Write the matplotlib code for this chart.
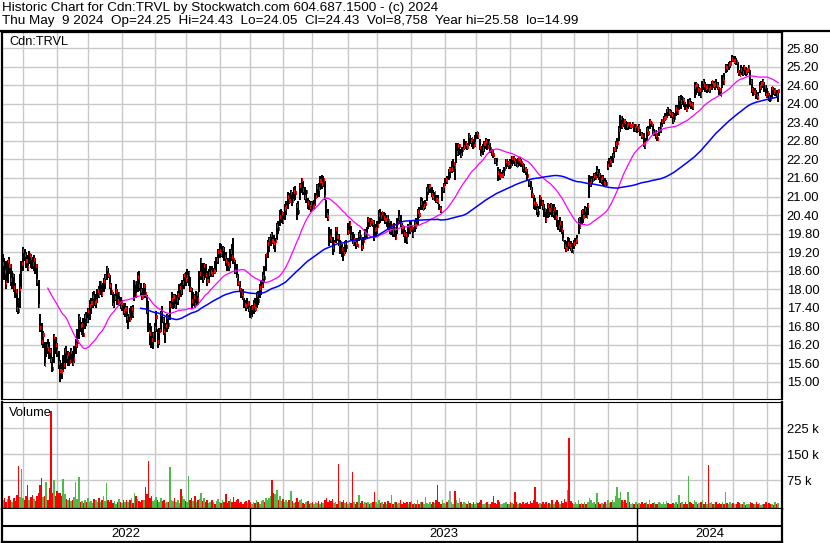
import pandas as pd
import matplotlib
matplotlib.use("Agg")
import matplotlib.pyplot as plt

# fonts: Arial-like first, DejaVu as fallback
plt.rcParams["font.family"] = ["Liberation Sans", "DejaVu Sans"]

# daily bars for Cdn:TRVL, one row per month (May 2022 .. May 2024)
low = [
    18.40, 18.30, 18.00, 18.20, 18.50, 18.10, 18.00, 17.90, 17.70, 17.25, 17.20, 17.40, 18.00, 18.60, 18.90,
    18.70, 18.60, 18.80, 18.70, 18.65, 18.60, 18.50, 18.10, 17.40, 16.60, 16.20, 16.10, 15.50, 15.80, 15.90, 15.75, 15.60, 15.30, 15.60, 15.90, 15.80, 15.40,
    14.99, 15.10, 15.30, 15.40, 15.60, 15.50, 15.50, 15.60, 15.50, 15.60, 15.90, 16.10, 16.40, 16.60, 16.50, 16.45, 16.70, 16.80, 16.90, 17.00,
    17.20, 17.40, 17.45, 17.40, 17.55, 17.70, 17.80, 17.75, 17.90, 18.00, 18.30, 18.35, 18.00, 17.80, 17.45, 17.40, 17.60, 17.50, 17.45, 17.35, 17.30, 17.15,
    17.10, 16.90, 16.70, 16.95, 17.00, 17.05, 17.60, 17.70, 17.90, 17.95, 17.80, 17.65, 17.75, 17.70, 17.20, 16.60, 16.20, 16.10, 16.05, 16.30, 16.60,
    16.10, 16.20, 16.60, 16.90, 16.50, 16.25, 16.60, 16.70, 17.00, 17.40, 17.35, 17.40, 17.35, 17.50, 17.65, 17.75, 17.80, 18.00, 18.10, 18.20,
    18.10, 17.90, 17.35, 17.45, 17.40, 17.45, 17.50, 17.90, 18.30, 18.20, 18.30, 18.35, 18.10, 18.20, 18.40, 18.40, 18.40, 18.50, 18.55, 18.80, 19.00, 19.05,
    19.00, 18.90, 18.75, 18.60, 18.60, 18.70, 18.90, 18.80, 18.50, 18.35, 18.10, 17.90, 17.70, 17.65, 17.40, 17.30, 17.35, 17.25, 17.05, 17.10,
    17.20, 17.25, 17.40, 17.50, 17.70, 17.80, 18.05, 18.20, 18.60, 19.00, 19.20, 19.40, 19.45, 19.30, 19.20, 19.60, 19.80, 20.05, 20.15, 20.10, 20.25,
    20.40, 20.60, 20.75, 20.80, 20.70, 20.85, 20.90, 20.25, 20.40, 20.90, 21.10, 21.05, 20.90, 20.80, 20.60, 20.55, 20.50, 20.55, 20.60,
    20.70, 20.95, 21.00, 21.20, 21.25, 21.30, 20.90, 20.30, 20.20, 19.40, 19.50, 19.10, 19.20, 19.50, 19.55, 19.40, 19.15, 19.05, 18.90, 19.15, 19.20, 19.75, 19.80,
    19.60, 19.45, 19.40, 19.30, 19.35, 19.55, 19.60, 19.25, 19.30, 19.60, 19.65, 19.95, 20.00, 20.05, 20.00, 19.55, 19.70, 19.80, 20.10,
    20.15, 20.20, 20.20, 20.10, 20.00, 19.90, 19.80, 19.75, 19.70, 19.70, 19.60, 19.80, 20.10, 20.00, 19.80, 19.70, 19.50, 19.45, 19.70, 19.80, 19.85, 19.65,
    19.85, 19.95, 20.05, 20.30, 20.55, 20.55, 20.55, 20.60, 20.85, 21.05, 21.10, 21.00, 20.90, 20.85, 20.80, 20.75, 20.55, 20.45, 20.85, 21.10, 21.35, 21.40,
    21.55, 21.60, 21.75, 21.80, 21.55, 22.10, 22.30, 22.35, 22.25, 22.30, 22.50, 22.55, 22.50, 22.65, 22.70, 22.60, 22.55, 22.60, 22.85, 22.85,
    22.50, 22.30, 22.35, 22.45, 22.55, 22.50, 22.55, 22.40, 22.30, 22.25, 22.05, 22.00, 21.50, 21.55, 21.60, 21.60, 21.65, 21.90, 21.95, 21.90, 21.90, 22.00,
    22.05, 22.00, 21.95, 21.95, 22.00, 21.95, 21.80, 21.75, 21.70, 21.50, 21.30, 21.20, 20.95, 20.60, 20.55, 20.40, 20.35, 20.60, 20.70, 20.55,
    20.35, 20.15, 20.30, 20.35, 20.40, 20.35, 20.30, 20.25, 20.00, 19.90, 19.85, 19.80, 19.55, 19.30, 19.20, 19.25, 19.30, 19.25, 19.16, 19.30, 19.40,
    19.45, 19.80, 19.95, 20.10, 20.15, 20.30, 20.30, 20.40, 20.95, 21.30, 21.40, 21.50, 21.55, 21.60, 21.55, 21.45, 21.40, 21.35, 21.30, 21.35, 21.85, 21.95,
    21.95, 22.10, 22.25, 22.45, 22.55, 22.80, 23.10, 23.20, 23.25, 23.20, 23.15, 23.15, 23.20, 23.20, 23.25, 23.10, 23.10, 23.05, 23.10,
    22.95, 22.85, 22.60, 22.55, 22.80, 22.95, 23.20, 23.25, 23.00, 22.95, 22.85, 22.80, 22.95, 23.05, 23.25, 23.35, 23.45, 23.55, 23.60, 23.60, 23.55,
    23.35, 23.40, 23.60, 23.65, 23.80, 23.85, 23.95, 23.90, 23.80, 23.75, 23.85, 23.90, 23.85, 23.80, 24.20, 24.30, 24.35, 24.25, 24.20, 24.40,
    24.45, 24.40, 24.35, 24.40, 24.35, 24.45, 24.50, 24.45, 24.50, 24.45, 24.30, 24.25, 24.50, 24.60, 25.00, 25.05, 25.10, 25.15, 25.35, 25.35,
    25.30, 25.25, 25.00, 24.90, 24.95, 24.90, 24.95, 24.90, 24.95, 25.00, 24.60, 24.35, 24.25, 24.30, 24.15, 24.13, 24.35, 24.45, 24.50, 24.40, 24.25, 24.20,
    24.10, 24.05, 24.20, 24.30, 24.25, 24.20, 24.05,
]
high = [
    19.15, 19.00, 18.90, 18.95, 19.05, 18.80, 18.60, 18.50, 18.20, 18.00, 17.70, 18.50, 18.90, 19.35, 19.30,
    19.20, 19.10, 19.25, 19.15, 19.05, 19.10, 19.00, 18.80, 18.30, 17.20, 16.90, 16.65, 16.30, 16.30, 16.40, 16.30, 16.10, 15.80, 16.55, 16.45, 16.25, 16.00,
    15.70, 15.60, 15.85, 16.10, 16.15, 16.00, 15.95, 16.10, 16.00, 16.15, 16.40, 16.70, 17.20, 17.10, 16.95, 17.05, 17.20, 17.25, 17.40, 17.65,
    17.70, 17.90, 17.95, 17.85, 18.00, 18.10, 18.25, 18.20, 18.35, 18.50, 18.75, 18.70, 18.45, 18.20, 17.90, 17.85, 18.15, 18.00, 17.90, 17.75, 17.65, 17.55,
    17.55, 17.45, 17.20, 17.40, 17.45, 17.50, 18.30, 18.25, 18.55, 18.60, 18.20, 18.05, 18.20, 18.15, 17.80, 17.60, 16.90, 16.80, 16.60, 16.90, 17.30,
    16.70, 16.75, 17.30, 17.45, 17.10, 16.90, 17.20, 17.15, 17.60, 17.90, 17.85, 17.85, 17.80, 17.95, 18.15, 18.20, 18.30, 18.50, 18.55, 18.65,
    18.60, 18.40, 18.05, 17.90, 17.85, 17.95, 17.90, 18.60, 19.00, 18.85, 18.85, 18.80, 18.60, 18.65, 18.75, 18.75, 18.70, 18.90, 19.05, 19.30, 19.50, 19.45,
    19.40, 19.35, 19.20, 19.00, 19.00, 19.30, 19.45, 19.65, 18.95, 18.80, 18.50, 18.25, 18.05, 18.00, 17.70, 17.65, 17.70, 17.60, 17.45, 17.50,
    17.65, 17.70, 17.90, 17.95, 18.15, 18.30, 18.55, 18.75, 19.15, 19.60, 19.70, 19.80, 19.85, 19.75, 19.65, 20.15, 20.20, 20.55, 20.60, 20.50, 20.75,
    20.85, 21.15, 21.10, 21.20, 21.15, 21.30, 21.35, 20.80, 20.85, 21.45, 21.60, 21.50, 21.30, 21.20, 20.95, 20.90, 20.85, 20.85, 20.90,
    21.10, 21.40, 21.45, 21.65, 21.70, 21.65, 21.50, 20.90, 20.60, 20.00, 19.95, 19.70, 19.60, 20.00, 20.00, 19.80, 19.60, 19.45, 19.35, 19.55, 19.60, 20.15, 20.20,
    20.05, 19.85, 19.80, 19.60, 19.65, 19.85, 19.90, 19.65, 19.70, 19.95, 20.00, 20.35, 20.30, 20.30, 20.25, 20.25, 20.10, 20.20, 20.55,
    20.60, 20.50, 20.50, 20.45, 20.40, 20.40, 20.15, 20.20, 20.10, 20.15, 20.00, 20.30, 20.55, 20.40, 20.15, 20.05, 19.90, 19.85, 20.10, 20.20, 20.25, 20.00,
    20.20, 20.30, 20.60, 20.65, 21.00, 20.95, 20.85, 20.90, 21.30, 21.40, 21.40, 21.30, 21.20, 21.15, 21.05, 21.05, 20.75, 20.70, 21.30, 21.45, 21.60, 21.65,
    21.90, 21.95, 22.15, 22.20, 22.10, 22.75, 22.75, 22.70, 22.55, 22.60, 22.85, 22.80, 22.75, 23.05, 23.00, 22.90, 22.85, 23.00, 23.10, 23.10,
    22.85, 22.65, 22.70, 22.80, 22.90, 22.85, 22.85, 22.75, 22.55, 22.50, 22.25, 22.25, 21.95, 21.90, 21.80, 21.85, 21.95, 22.20, 22.20, 22.15, 22.20, 22.30,
    22.30, 22.25, 22.20, 22.25, 22.25, 22.20, 22.10, 22.05, 21.95, 21.90, 21.55, 21.50, 21.30, 21.05, 20.95, 20.75, 20.70, 21.05, 21.00, 20.90,
    20.75, 20.60, 20.80, 20.75, 20.80, 20.75, 20.75, 20.65, 20.55, 20.25, 20.35, 20.20, 19.90, 19.60, 19.55, 19.70, 19.65, 19.55, 19.50, 19.60, 19.65,
    19.75, 20.30, 20.35, 20.55, 20.60, 20.70, 20.65, 20.80, 21.70, 21.65, 21.65, 21.75, 21.80, 22.00, 21.90, 21.75, 21.70, 21.70, 21.60, 21.55, 22.15, 22.25,
    22.30, 22.40, 22.60, 22.80, 22.90, 23.30, 23.65, 23.60, 23.55, 23.50, 23.45, 23.40, 23.40, 23.35, 23.40, 23.35, 23.35, 23.30, 23.35,
    23.20, 23.10, 23.05, 22.90, 23.25, 23.30, 23.50, 23.45, 23.35, 23.20, 23.15, 23.05, 23.25, 23.40, 23.50, 23.60, 23.70, 23.85, 23.90, 23.85, 23.80,
    23.75, 23.70, 23.95, 23.95, 24.25, 24.30, 24.25, 24.20, 24.05, 24.00, 24.15, 24.20, 24.10, 24.05, 24.70, 24.70, 24.65, 24.55, 24.50, 24.75,
    24.80, 24.70, 24.65, 24.65, 24.65, 24.75, 24.75, 24.75, 24.80, 24.70, 24.55, 24.50, 24.95, 25.00, 25.30, 25.30, 25.35, 25.40, 25.58, 25.55,
    25.55, 25.50, 25.35, 25.10, 25.25, 25.20, 25.25, 25.20, 25.15, 25.25, 25.10, 24.80, 24.55, 24.50, 24.45, 24.40, 24.70, 24.75, 24.80, 24.70, 24.60, 24.50,
    24.35, 24.30, 24.55, 24.55, 24.50, 24.45, 24.43,
]
close = [
    18.80, 18.55, 18.20, 18.90, 18.75, 18.30, 18.45, 18.05, 17.95, 17.35, 17.30, 18.00, 18.80, 19.25, 19.10,
    18.90, 18.70, 19.10, 19.00, 18.80, 18.95, 18.75, 18.25, 17.45, 16.75, 16.30, 16.50, 15.55, 16.15, 16.05, 16.00, 15.70, 15.40, 16.45, 16.20, 16.00, 15.60,
    15.35, 15.30, 15.55, 16.00, 15.80, 15.90, 15.65, 15.95, 15.60, 15.75, 16.20, 16.30, 17.05, 16.80, 16.85, 16.50, 17.10, 17.00, 17.30, 17.45,
    17.55, 17.75, 17.55, 17.60, 17.95, 17.80, 18.20, 17.85, 18.25, 18.40, 18.65, 18.45, 18.10, 17.90, 17.50, 17.70, 17.95, 17.60, 17.85, 17.45, 17.55, 17.30,
    17.35, 17.05, 17.15, 17.00, 17.35, 17.20, 18.20, 17.80, 18.40, 18.10, 17.95, 17.75, 18.10, 17.85, 17.30, 16.60, 16.55, 16.35, 16.50, 16.70, 17.10,
    16.30, 16.65, 17.20, 17.00, 16.65, 16.80, 17.10, 16.85, 17.50, 17.65, 17.75, 17.45, 17.65, 17.80, 18.05, 17.90, 18.20, 18.45, 18.30, 18.40,
    18.50, 18.00, 17.60, 17.75, 17.50, 17.85, 17.65, 18.50, 18.90, 18.35, 18.75, 18.45, 18.25, 18.50, 18.55, 18.50, 18.60, 18.55, 18.95, 19.20, 19.25, 19.15,
    19.30, 19.05, 18.90, 18.80, 18.75, 19.20, 19.05, 18.95, 18.60, 18.40, 18.20, 18.00, 17.85, 17.75, 17.50, 17.45, 17.55, 17.35, 17.10, 17.40,
    17.50, 17.35, 17.80, 17.60, 18.05, 18.10, 18.40, 18.35, 19.10, 19.45, 19.60, 19.75, 19.55, 19.50, 19.55, 20.05, 19.95, 20.35, 20.45, 20.20, 20.60,
    20.65, 21.00, 20.85, 21.10, 20.85, 21.15, 21.10, 20.70, 20.50, 21.35, 21.55, 21.20, 21.00, 21.15, 20.80, 20.65, 20.75, 20.65, 20.70,
    21.00, 21.30, 21.25, 21.50, 21.40, 21.55, 21.00, 20.40, 20.35, 19.70, 19.60, 19.35, 19.45, 19.95, 19.70, 19.45, 19.50, 19.30, 19.15, 19.50, 19.35, 19.85, 20.10,
    19.70, 19.50, 19.60, 19.45, 19.40, 19.75, 19.70, 19.35, 19.55, 19.80, 19.75, 20.25, 20.10, 20.20, 20.15, 19.90, 19.95, 20.05, 20.40,
    20.35, 20.45, 20.30, 20.25, 20.35, 20.20, 19.90, 20.05, 19.85, 19.95, 19.65, 20.15, 20.30, 20.10, 20.00, 19.80, 19.75, 19.60, 20.05, 19.90, 20.00, 19.75,
    20.10, 20.05, 20.50, 20.40, 20.80, 20.60, 20.70, 20.75, 21.20, 21.30, 21.35, 21.05, 20.95, 21.10, 20.90, 20.85, 20.60, 20.55, 21.25, 21.35, 21.55, 21.50,
    21.85, 21.85, 21.90, 22.05, 21.95, 22.40, 22.65, 22.65, 22.35, 22.50, 22.60, 22.70, 22.60, 22.95, 22.80, 22.85, 22.65, 22.70, 23.05, 22.95,
    22.60, 22.35, 22.55, 22.70, 22.80, 22.60, 22.75, 22.55, 22.40, 22.35, 22.15, 22.05, 21.75, 21.65, 21.65, 21.70, 21.90, 22.15, 22.05, 22.10, 22.00, 22.25,
    22.20, 22.10, 22.00, 22.20, 22.15, 22.10, 21.95, 21.90, 21.85, 21.65, 21.45, 21.25, 21.05, 20.80, 20.75, 20.55, 20.45, 21.00, 20.80, 20.65,
    20.55, 20.25, 20.70, 20.55, 20.70, 20.45, 20.60, 20.35, 20.30, 20.00, 20.15, 19.90, 19.60, 19.40, 19.30, 19.45, 19.40, 19.30, 19.20, 19.45, 19.55,
    19.60, 20.25, 20.05, 20.50, 20.35, 20.55, 20.35, 20.70, 21.40, 21.50, 21.55, 21.65, 21.60, 21.80, 21.70, 21.55, 21.60, 21.45, 21.40, 21.40, 22.00, 22.15,
    22.10, 22.30, 22.55, 22.70, 22.75, 23.15, 23.55, 23.30, 23.45, 23.40, 23.30, 23.35, 23.30, 23.30, 23.35, 23.20, 23.30, 23.20, 23.25,
    23.00, 22.95, 22.70, 22.65, 23.15, 23.05, 23.40, 23.35, 23.05, 23.10, 23.00, 22.85, 23.15, 23.25, 23.45, 23.50, 23.55, 23.80, 23.75, 23.70, 23.65,
    23.45, 23.55, 23.85, 23.75, 24.15, 24.05, 24.15, 24.10, 23.85, 23.80, 24.05, 24.00, 23.95, 23.90, 24.55, 24.60, 24.45, 24.45, 24.30, 24.70,
    24.60, 24.50, 24.55, 24.45, 24.50, 24.70, 24.60, 24.65, 24.60, 24.55, 24.45, 24.30, 24.80, 24.70, 25.20, 25.15, 25.25, 25.30, 25.45, 25.40,
    25.40, 25.35, 25.05, 24.95, 25.10, 25.00, 25.15, 25.05, 25.10, 25.20, 24.70, 24.45, 24.35, 24.40, 24.25, 24.20, 24.55, 24.65, 24.70, 24.55, 24.30, 24.35,
    24.20, 24.15, 24.50, 24.40, 24.45, 24.30, 24.43,
]
# daily volume in thousands of shares
volume_k = [
    18, 25, 14, 22, 30, 20, 12, 24, 16, 34, 118, 28, 107, 24, 20,
    30, 62, 18, 26, 34, 22, 15, 30, 40, 62, 83, 28, 30, 72, 20, 52, 275, 40, 76, 30, 45, 38,
    40, 30, 79, 35, 22, 18, 25, 15, 20, 28, 70, 22, 86, 12, 15, 10, 20, 14, 25, 12,
    16, 10, 22, 18, 12, 25, 14, 20, 30, 15, 69, 18, 12, 20, 10, 15, 8, 14, 22, 12, 10, 18,
    14, 20, 12, 18, 25, 10, 38, 30, 22, 15, 12, 20, 18, 57, 35, 131, 25, 30, 15, 20, 28,
    18, 12, 25, 15, 20, 10, 14, 12, 115, 20, 15, 25, 12, 18, 10, 50, 30, 22, 15, 12,
    87, 20, 25, 15, 30, 12, 18, 22, 38, 15, 25, 12, 18, 10, 14, 20, 12, 8, 16, 22, 14, 10,
    18, 12, 36, 10, 15, 22, 14, 28, 12, 18, 21, 10, 14, 8, 12, 16, 10, 20, 12, 8,
    14, 10, 18, 12, 8, 16, 20, 12, 24, 18, 25, 30, 76, 40, 35, 47, 20, 30, 15, 22, 12,
    18, 12, 20, 45, 15, 10, 14, 25, 12, 18, 22, 10, 8, 12, 15, 6, 10, 14, 8,
    12, 10, 15, 8, 14, 10, 18, 25, 12, 20, 15, 22, 10, 14, 8, 123, 16, 12, 20, 10, 14, 8, 12,
    10, 100, 14, 8, 12, 33, 10, 15, 8, 12, 10, 14, 6, 10, 12, 43, 14, 8, 20,
    10, 14, 8, 12, 6, 15, 10, 33, 8, 12, 14, 6, 10, 18, 8, 12, 10, 14, 6, 12, 15, 8,
    10, 6, 18, 8, 12, 14, 6, 28, 10, 8, 12, 6, 14, 10, 18, 62, 12, 8, 20, 10, 6, 12,
    18, 45, 12, 8, 45, 20, 10, 25, 12, 8, 14, 10, 6, 16, 10, 8, 12, 6, 14, 10,
    12, 18, 8, 6, 10, 14, 6, 8, 12, 30, 10, 6, 20, 12, 8, 6, 10, 14, 8, 6, 12, 10,
    8, 43, 12, 6, 10, 8, 14, 6, 10, 12, 8, 15, 10, 18, 57, 14, 8, 10, 6, 12,
    8, 14, 6, 10, 8, 18, 6, 12, 20, 14, 8, 16, 10, 22, 12, 47, 197, 15, 10, 8, 12,
    6, 20, 8, 10, 6, 14, 8, 12, 24, 18, 10, 14, 8, 40, 12, 6, 10, 8, 14, 6, 18, 10,
    12, 20, 14, 30, 57, 25, 43, 18, 12, 20, 10, 41, 14, 6, 10, 8, 12, 6, 10,
    8, 12, 6, 10, 14, 8, 18, 6, 10, 12, 8, 6, 14, 10, 6, 12, 8, 16, 10, 6, 8,
    10, 6, 12, 8, 33, 10, 14, 6, 12, 8, 88, 14, 10, 6, 18, 12, 8, 10, 14, 20,
    8, 12, 6, 120, 10, 14, 6, 8, 12, 6, 10, 8, 14, 6, 43, 10, 8, 12, 6, 10,
    8, 6, 14, 10, 6, 8, 12, 5, 8, 6, 14, 10, 8, 6, 12, 8, 10, 5, 6, 8, 12, 6,
    10, 6, 8, 5, 12, 6, 8.758,
]
# TSX holidays inside the period
holidays = [
    "2022-05-23", "2022-07-01", "2022-08-01", "2022-09-05", "2022-10-10", "2022-12-26",
    "2022-12-27", "2023-01-02", "2023-02-20", "2023-04-07", "2023-05-22", "2023-07-03",
    "2023-08-07", "2023-09-04", "2023-10-09", "2023-12-25", "2023-12-26", "2024-01-01",
    "2024-02-19", "2024-03-29",
]
price_ticks = [15.00, 15.60, 16.20, 16.80, 17.40, 18.00, 18.60, 19.20, 19.80, 20.40, 21.00,
               21.60, 22.20, 22.80, 23.40, 24.00, 24.60, 25.20, 25.80]
volume_ticks = [75, 150, 225]
header_1 = "Historic Chart for Cdn:TRVL by Stockwatch.com 604.687.1500 - (c) 2024"
header_2 = ("Thu May  9 2024  Op=24.25  Hi=24.43  Lo=24.05  Cl=24.43  Vol=8,758  "
            "Year hi=25.58  lo=14.99")

n = min(len(low), len(high), len(close), len(volume_k))
low, high, close, volume_k = low[:n], high[:n], close[:n], volume_k[:n]

# trading dates ending on the last bar
dates = pd.bdate_range(end="2024-05-09", periods=n, freq="C", holidays=holidays)
df = pd.DataFrame({"low": low, "high": high, "close": close, "vol": volume_k}, index=dates)
x = list(range(n))

# moving averages of the close
ma_short = df["close"].rolling(30).mean()
ma_long = df["close"].rolling(90).mean()

# month and year boundaries (bar positions)
month_start = [i for i in range(1, n) if dates[i].month != dates[i - 1].month]
year_start = [i for i in range(1, n) if dates[i].year != dates[i - 1].year]

# volume colour: up green, down red, unchanged grey
change = df["close"].diff().fillna(1)
vol_colors = ["#4cbb47" if c > 0 else ("#ff0000" if c < 0 else "#a0a0a0") for c in change]

W, H = 830, 543
fig = plt.figure(figsize=(W / 100, H / 100), dpi=100)
fig.patch.set_facecolor("white")


def box(x0, y0, x1, y1):
    # pixel box -> figure fraction
    return [x0 / W, 1 - y1 / H, (x1 - x0) / W, (y1 - y0) / H]


grid_col = "#c8c8c8"
x_lim = (-0.6, 503.5)
label_size = 9.4

# price panel
ax = fig.add_axes(box(2, 32, 782, 399))
ax.set_xlim(*x_lim)
ax.set_ylim(14.44, 26.33)
for p in price_ticks:
    ax.axhline(p, color=grid_col, lw=1.0, zorder=0)
for m in month_start:
    ax.axvline(m - 1, color=grid_col, lw=1.0, zorder=0)
ax.vlines(x, df["low"], df["high"], color="black", lw=1.2, zorder=2, antialiased=False)
ax.hlines(df["close"], [i + 0.2 for i in x], [i + 0.9 for i in x], color="red", lw=1.5,
          zorder=3, antialiased=False)
ax.plot(x, ma_short, color="#ff00ff", lw=0.9, zorder=4)
ax.plot(x, ma_long, color="#0000ff", lw=1.1, zorder=4)
ax.set_xticks([])
ax.yaxis.tick_right()
ax.set_yticks(price_ticks)
ax.set_yticklabels([f"{p:.2f}" for p in price_ticks], fontsize=label_size)
ax.tick_params(axis="y", length=0, pad=3.5)
for side in ["left", "right", "top"]:
    ax.spines[side].set_linewidth(1.6)
ax.spines["bottom"].set_linewidth(0.8)

# volume panel
axv = fig.add_axes(box(2, 402, 782, 509))
axv.set_xlim(*x_lim)
axv.set_ylim(-7.2, 301.4)
for v in volume_ticks:
    axv.axhline(v, color=grid_col, lw=1.0, zorder=0)
for m in month_start:
    axv.axvline(m - 1, color=grid_col, lw=1.0, zorder=0)
axv.bar(x, [v + 7.2 for v in df["vol"]], bottom=-7.2, width=1.0, color=vol_colors,
        zorder=2, antialiased=False)
axv.set_xticks([])
axv.yaxis.tick_right()
axv.set_yticks(volume_ticks)
axv.set_yticklabels([f"{v} k" for v in volume_ticks], fontsize=label_size)
axv.tick_params(axis="y", length=0, pad=3.5)
for side in ["left", "right", "bottom"]:
    axv.spines[side].set_linewidth(1.6)
axv.spines["top"].set_linewidth(0.8)

# date strip with year labels
axd = fig.add_axes(box(2, 509, 782, 542))
axd.set_xlim(*x_lim)
axd.set_ylim(0, 2)
axd.axhline(1, color="black", lw=1.5)
edges = [x_lim[0]] + [s - 1 for s in year_start] + [x_lim[1]]
for e in edges[1:-1]:
    axd.axvline(e, color="black", lw=1.0)
years = sorted(set(d.year for d in dates))
for k, yr in enumerate(years):
    axd.text((edges[k] + edges[k + 1]) / 2, 0.5, str(yr), ha="center", va="center",
             fontsize=label_size)
axd.set_xticks([])
axd.set_yticks([])
for side in ["left", "right", "bottom"]:
    axd.spines[side].set_linewidth(1.6)
axd.spines["top"].set_visible(False)

# header line across the full width
fig.add_artist(plt.Line2D([0, 1], [1 - 31 / H, 1 - 31 / H], color="black", lw=1.6))

# header and panel captions
fig.text(2 / W, 1 - 8 / H, header_1, fontsize=9.7, va="center", ha="left")
fig.text(2 / W, 1 - 21 / H, header_2, fontsize=9.7, va="center", ha="left")
fig.text(9 / W, 1 - 42 / H, "Cdn:TRVL", fontsize=9.2, va="center", ha="left")
fig.text(9 / W, 1 - 413 / H, "Volume", fontsize=9.3, va="center", ha="left")

fig.savefig("out.png", dpi=100)
